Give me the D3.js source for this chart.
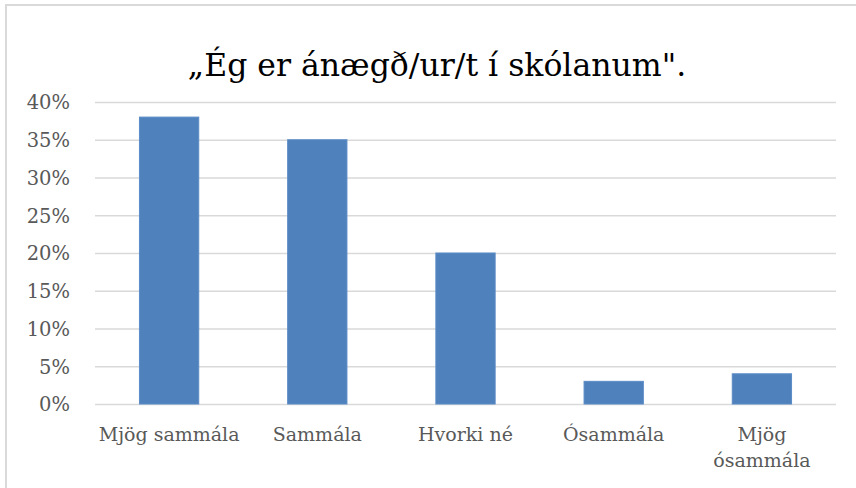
<!DOCTYPE html>
<meta charset="utf-8">
<style>
body { margin: 0; background: #fff; }
svg { display: block; }
.grid line { stroke: #d9d9d9; stroke-width: 1.3px; }
.grid path { display: none; }
.yaxis text, .xaxis text { fill: #595959; font-family: "DejaVu Serif", serif; }
.yaxis path, .yaxis line, .xaxis path, .xaxis line { display: none; }
.title { font-family: "DejaVu Serif", serif; font-size: 31.5px; fill: #000; }
</style>
<body>
<script src="https://d3js.org/d3.v7.min.js"></script>
<script>

var categories = ["Mjög sammála", "Sammála", "Hvorki né", "Ósammála", "Mjög ósammála"];
var values = [0.38, 0.35, 0.20, 0.03, 0.04];
var ticks = [0, 0.05, 0.10, 0.15, 0.20, 0.25, 0.30, 0.35, 0.40];
var title = "„Ég er ánægð/ur/t í skólanum\".";

var W = 856, H = 488;
var margin = {top: 102, right: 20, bottom: 84, left: 95},
    width = 836 - margin.left,
    height = 404 - margin.top;

var svg = d3.select("body").append("svg")
    .attr("width", W)
    .attr("height", H);

// chart frame
svg.append("rect")
    .attr("x", 6).attr("y", 5)
    .attr("width", W).attr("height", H)
    .attr("fill", "none")
    .attr("stroke", "#d9d9d9")
    .attr("stroke-width", 2);

svg.append("text")
    .attr("class", "title")
    .attr("x", 437)
    .attr("y", 76)
    .attr("text-anchor", "middle")
    .text(title);

var x = d3.scaleBand()
    .domain(categories)
    .range([0, width])
    .paddingInner(0.6)
    .paddingOuter(0.3);

var y = d3.scaleLinear()
    .domain([0, 0.40])
    .range([height, 0]);

var g = svg.append("g")
    .attr("transform", "translate(" + margin.left + "," + margin.top + ")");

g.append("g")
    .attr("class", "grid")
    .call(d3.axisLeft(y).tickValues(ticks).tickSize(-width).tickFormat(""));

g.append("g")
    .attr("class", "yaxis")
    .attr("transform", "translate(-22,0)")
    .call(d3.axisLeft(y).tickValues(ticks).tickSize(0).tickFormat(d3.format(".0%")))
    .selectAll("text")
    .style("font-size", "19.5px")
    .attr("dy", "0.35em");

g.selectAll(".bar")
    .data(values)
  .enter().append("rect")
    .attr("class", "bar")
    .attr("x", function(d, i) { return x(categories[i]); })
    .attr("width", x.bandwidth())
    .attr("y", function(d) { return y(d); })
    .attr("height", function(d) { return height - y(d); })
    .attr("fill", "#4f81bd")
    .attr("stroke", "#5b8cc6")
    .attr("stroke-width", 1);

var xa = g.append("g")
    .attr("class", "xaxis")
    .attr("transform", "translate(0," + height + ")")
    .call(d3.axisBottom(x).tickSize(0).tickPadding(0));

// wrap long labels onto two lines like the original
xa.selectAll("text")
    .style("font-size", "19px")
    .attr("y", 0)
    .attr("dy", 0)
    .each(function(d) {
      var t = d3.select(this);
      t.text(null);
      var lines = (d === "Mjög ósammála") ? ["Mjög", "ósammála"] : [d];
      lines.forEach(function(l, k) {
        t.append("tspan")
          .attr("x", 0)
          .attr("y", 37 + k * 26)
          .text(l);
      });
    });

</script>
</body>
